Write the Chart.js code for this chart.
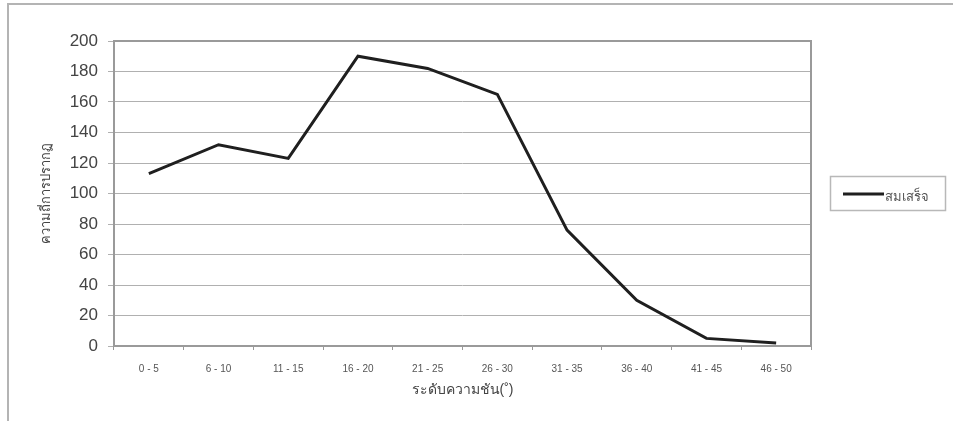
<!DOCTYPE html>
<html lang="th">
<head>
  <meta charset="UTF-8">
  <title>ความถี่การปรากฏ</title>
  <script src="https://cdn.jsdelivr.net/npm/chart.js"></script>
  <style>
    html, body { margin: 0; padding: 0; background: #fff; }
    canvas { display: block; }
  </style>
</head>
<body>
  <canvas id="slopeChart" width="953" height="421"></canvas>
  <script>
    // ข้อมูลจากกราฟ
    const categories = ['0 - 5', '6 - 10', '11 - 15', '16 - 20', '21 - 25', '26 - 30', '31 - 35', '36 - 40', '41 - 45', '46 - 50'];
    const seriesName = 'สมเสร็จ';
    const frequency = [113, 132, 123, 190, 182, 165, 76, 30, 5, 2];
    const yTicks = [0, 20, 40, 60, 80, 100, 120, 140, 160, 180, 200];

    const fontFamily = '"Liberation Sans", Arial, "DejaVu Sans", sans-serif';

    // กรอบรอบพื้นที่กราฟ, กรอบนอก และคำอธิบาย
    const framePlugin = {
      id: 'frame',
      beforeDatasetsDraw(chart) {
        const a = chart.chartArea;
        const ctx = chart.ctx;
        ctx.save();
        ctx.strokeStyle = '#9a9a9a';
        ctx.lineWidth = 2;
        ctx.strokeRect(a.left, a.top, a.right - a.left, a.bottom - a.top);
        ctx.restore();
      },
      afterDraw(chart) {
        const ctx = chart.ctx;
        ctx.save();
        // outer border
        ctx.strokeStyle = '#b4b4b4';
        ctx.lineWidth = 2;
        ctx.beginPath();
        ctx.moveTo(8, 430);
        ctx.lineTo(8, 4);
        ctx.lineTo(960, 4);
        ctx.stroke();
        // legend
        const ds = chart.data.datasets[0];
        ctx.strokeStyle = '#b8b8b8';
        ctx.lineWidth = 1.5;
        ctx.strokeRect(830.5, 176.5, 115, 34);
        ctx.strokeStyle = ds.borderColor;
        ctx.lineWidth = 3;
        ctx.beginPath();
        ctx.moveTo(843, 194);
        ctx.lineTo(884, 194);
        ctx.stroke();
        ctx.fillStyle = '#555';
        ctx.font = '13px ' + fontFamily;
        ctx.textBaseline = 'middle';
        ctx.fillText(ds.label, 885, 197);
        ctx.restore();
      }
    };

    new Chart(document.getElementById('slopeChart'), {
      type: 'line',
      data: {
        labels: categories,
        datasets: [{
          label: seriesName,
          data: frequency,
          borderColor: '#1f1f1f',
          borderWidth: 3,
          pointRadius: 0,
          tension: 0,
          fill: false
        }]
      },
      options: {
        responsive: false,
        animation: false,
        layout: { padding: { left: 0, top: 41, right: 142, bottom: 0 } },
        plugins: {
          legend: { display: false },
          tooltip: { enabled: false }
        },
        scales: {
          x: {
            offset: true,
            grid: { offset: true, drawOnChartArea: false, drawTicks: true, tickLength: 4, color: '#999' },
            border: { display: false },
            ticks: { color: '#555', padding: 13, maxRotation: 0, autoSkip: false, font: { size: 10, family: fontFamily } },
            title: { display: true, text: 'ระดับความชัน(˚)', color: '#444', padding: { top: 0, bottom: 22 }, font: { size: 14, family: fontFamily } },
            afterFit(scale) { scale.height = 75; }
          },
          y: {
            min: 0,
            max: 200,
            afterBuildTicks(scale) { scale.ticks = yTicks.map(v => ({ value: v })); },
            grid: { color: '#b0b0b0', lineWidth: 1, tickLength: 6 },
            border: { display: false },
            ticks: { color: '#444', padding: 10, font: { size: 17, family: fontFamily } },
            title: { display: true, text: 'ความถี่การปรากฏ', color: '#444', padding: { top: 39, bottom: 0 }, font: { size: 13, family: fontFamily } },
            afterFit(scale) { scale.width = 114; }
          }
        }
      },
      plugins: [framePlugin]
    });
  </script>
</body>
</html>
